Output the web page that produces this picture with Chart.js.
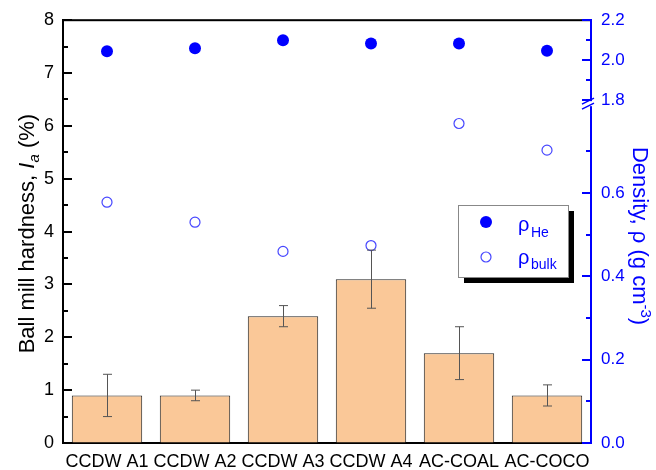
<!DOCTYPE html>
<html>
<head>
<meta charset="utf-8">
<script src="https://cdn.jsdelivr.net/npm/chart.js@4/dist/chart.umd.min.js"></script>
<style>
  body { margin: 0; background: #fff; }
</style>
</head>
<body>
<canvas id="c" width="656" height="470"></canvas>
<script>
// data
const labels = ['CCDW A1', 'CCDW A2', 'CCDW A3', 'CCDW A4', 'AC-COAL', 'AC-COCO'];
const hardness = [0.9, 0.9, 2.4, 3.1, 1.7, 0.9];
const hardnessErr = [0.4, 0.1, 0.2, 0.55, 0.5, 0.2];
const rhoHe = [2.045, 2.06, 2.10, 2.083, 2.083, 2.047];
const rhoBulk = [0.578, 0.53, 0.46, 0.474, 0.767, 0.703];

const leftTicks = [0, 1, 2, 3, 4, 5, 6, 7, 8];
const leftMinor = [0.5, 1.5, 2.5, 3.5, 4.5, 5.5, 6.5, 7.5];
const heTicks = [1.8, 2.0, 2.2];
const heMinor = [1.9, 2.1];
const bulkTicks = [0, 0.2, 0.4, 0.6];
const bulkMinor = [0.1, 0.3, 0.5, 0.7];

const FONT = "'Liberation Sans', Arial, sans-serif";
const BLUE = '#0000ff';

function fixTicks(list) {
  return function (scale) { scale.ticks = list.map(v => ({ value: v })); };
}

// short tick marks pointing into the plot
function drawTicks(ctx, scale, vals, x0, dir, len, color) {
  ctx.fillStyle = color;
  for (const v of vals) {
    const p = Math.round(scale.getPixelForValue(v));
    const xs = dir > 0 ? x0 : x0 - len;
    ctx.fillRect(xs, p - 1, len, 2);
  }
}

const extras = {
  id: 'extras',
  afterDatasetsDraw(chart) {
    const ctx = chart.ctx;
    const y = chart.scales.y;
    const meta = chart.getDatasetMeta(0);
    ctx.save();
    ctx.strokeStyle = '#555';
    ctx.lineWidth = 1;
    hardness.forEach((v, i) => {
      const x = Math.round(meta.data[i].x) + 0.5;
      const top = y.getPixelForValue(v + hardnessErr[i]);
      const bot = y.getPixelForValue(v - hardnessErr[i]);
      ctx.beginPath();
      ctx.moveTo(x, top); ctx.lineTo(x, bot);
      ctx.moveTo(x - 4.5, top); ctx.lineTo(x + 4.5, top);
      ctx.moveTo(x - 4.5, bot); ctx.lineTo(x + 4.5, bot);
      ctx.stroke();
    });
    ctx.restore();
  },
  afterDraw(chart) {
    const ctx = chart.ctx;
    const a = chart.chartArea;
    const sy = chart.scales.y, yHe = chart.scales.yHe, yBulk = chart.scales.yBulk;
    ctx.save();

    // top frame line
    ctx.fillStyle = '#000';
    ctx.fillRect(a.left - 1, a.top - 1, a.right - a.left, 2);

    const L = Math.round(a.left), R = Math.round(a.right);
    drawTicks(ctx, sy, leftTicks, L, 1, 9, '#000');
    drawTicks(ctx, sy, leftMinor, L, 1, 5, '#000');
    drawTicks(ctx, yHe, heTicks, R, -1, 9, BLUE);
    drawTicks(ctx, yHe, heMinor, R, -1, 5, BLUE);
    drawTicks(ctx, yBulk, bulkTicks, R, -1, 9, BLUE);
    drawTicks(ctx, yBulk, bulkMinor, R, -1, 5, BLUE);

    // axis break marks
    const yb = yHe.getPixelForValue(1.8);
    ctx.fillStyle = '#fff';
    ctx.fillRect(a.right - 2, yb + 1, 4, 5);
    ctx.strokeStyle = BLUE;
    ctx.lineWidth = 1.5;
    ctx.beginPath();
    ctx.moveTo(a.right - 9, yb + 4); ctx.lineTo(a.right + 3, yb - 2);
    ctx.moveTo(a.right - 9, yb + 9); ctx.lineTo(a.right + 3, yb + 3);
    ctx.stroke();

    // left title
    ctx.fillStyle = '#000';
    ctx.textBaseline = 'alphabetic';
    const parts = [
      { t: 'Ball mill hardness, ', f: '22px ' + FONT, dy: 0 },
      { t: 'I', f: 'italic 22px ' + FONT, dy: 0 },
      { t: 'a', f: 'italic 15px ' + FONT, dy: 5 },
      { t: ' (%)', f: '22px ' + FONT, dy: 0 }
    ];
    let total = 0;
    parts.forEach(p => { ctx.font = p.f; p.w = ctx.measureText(p.t).width; total += p.w; });
    ctx.save();
    ctx.translate(34, (a.top + a.bottom) / 2 + 2);
    ctx.rotate(-Math.PI / 2);
    let px = -total / 2;
    parts.forEach(p => { ctx.font = p.f; ctx.fillText(p.t, px, p.dy); px += p.w; });
    ctx.restore();

    // right title
    ctx.fillStyle = BLUE;
    const rparts = [
      { t: 'Density, \u03c1 (g cm', f: '22px ' + FONT, dy: 0 },
      { t: '-3', f: '15px ' + FONT, dy: -8 },
      { t: ')', f: '22px ' + FONT, dy: 0 }
    ];
    total = 0;
    rparts.forEach(p => { ctx.font = p.f; p.w = ctx.measureText(p.t).width; total += p.w; });
    ctx.save();
    ctx.translate(633, 236);
    ctx.rotate(Math.PI / 2);
    px = -total / 2;
    rparts.forEach(p => { ctx.font = p.f; ctx.fillText(p.t, px, p.dy); px += p.w; });
    ctx.restore();

    // legend box with shadow
    const lx = 458, ly = 205, lw = 110, lh = 72;
    ctx.fillStyle = '#000';
    ctx.fillRect(lx + 6, ly + 6, lw, lh);
    ctx.fillStyle = '#fff';
    ctx.fillRect(lx, ly, lw, lh);
    ctx.strokeStyle = '#888';
    ctx.lineWidth = 1;
    ctx.strokeRect(lx + 0.5, ly + 0.5, lw, lh);

    const ds = chart.data.datasets;
    ctx.beginPath();
    ctx.arc(lx + 28, ly + 17, ds[1].pointRadius, 0, Math.PI * 2);
    ctx.fillStyle = ds[1].pointBackgroundColor;
    ctx.fill();
    ctx.beginPath();
    ctx.arc(lx + 28, ly + 52, ds[2].pointRadius, 0, Math.PI * 2);
    ctx.fillStyle = '#fff';
    ctx.fill();
    ctx.strokeStyle = ds[2].pointBorderColor;
    ctx.lineWidth = ds[2].pointBorderWidth;
    ctx.stroke();

    ctx.fillStyle = BLUE;
    ctx.font = '20px ' + FONT;
    ctx.fillText('\u03c1', lx + 60, ly + 26);
    ctx.fillText('\u03c1', lx + 60, ly + 59);
    ctx.font = '14px ' + FONT;
    ctx.fillText('He', lx + 73, ly + 32);
    ctx.fillText('bulk', lx + 73, ly + 64);

    ctx.restore();
  }
};

new Chart(document.getElementById('c'), {
  data: {
    labels: labels,
    datasets: [
      {
        type: 'bar',
        label: 'Ball mill hardness',
        data: hardness,
        yAxisID: 'y',
        backgroundColor: '#fac898',
        borderColor: '#222',
        borderWidth: 1,
        barPercentage: 0.8,
        categoryPercentage: 1.0,
        order: 3
      },
      {
        type: 'line',
        label: '\u03c1He',
        data: rhoHe,
        yAxisID: 'yHe',
        showLine: false,
        pointRadius: 6,
        pointBackgroundColor: BLUE,
        pointBorderColor: BLUE,
        pointBorderWidth: 0,
        clip: false,
        order: 1
      },
      {
        type: 'line',
        label: '\u03c1bulk',
        data: rhoBulk,
        yAxisID: 'yBulk',
        showLine: false,
        pointRadius: 5,
        pointBackgroundColor: '#fff',
        pointBorderColor: '#4646ff',
        pointBorderWidth: 1.2,
        clip: false,
        order: 2
      }
    ]
  },
  options: {
    responsive: false,
    animation: false,
    layout: { padding: { top: 20, left: 0, right: 0, bottom: 0 } },
    plugins: { legend: { display: false }, tooltip: { enabled: false } },
    scales: {
      x: {
        grid: { drawOnChartArea: false, drawTicks: false },
        border: { color: '#000', width: 2 },
        ticks: { color: '#000', font: { family: FONT, size: 18 }, padding: 8, maxRotation: 0, autoSkip: false },
        afterFit: s => { s.height = 27; }
      },
      y: {
        position: 'left',
        min: 0, max: 8,
        afterBuildTicks: fixTicks(leftTicks),
        grid: { drawOnChartArea: false, drawTicks: false },
        border: { color: '#000', width: 2 },
        ticks: { color: '#000', font: { family: FONT, size: 18 }, padding: 9, autoSkip: false },
        afterFit: s => { s.width = 63; }
      },
      yHe: {
        position: 'right',
        stack: 'right',
        stackWeight: 80,
        min: 1.8, max: 2.2,
        afterBuildTicks: fixTicks(heTicks),
        grid: { drawOnChartArea: false, drawTicks: false },
        border: { color: BLUE, width: 2 },
        ticks: { color: BLUE, font: { family: FONT, size: 17 }, padding: 10, autoSkip: false, callback: v => v.toFixed(1) },
        afterFit: s => { s.width = 65; }
      },
      yBulk: {
        position: 'right',
        stack: 'right',
        stackWeight: 343,
        min: 0, max: 0.823,
        afterBuildTicks: fixTicks(bulkTicks),
        grid: { drawOnChartArea: false, drawTicks: false },
        border: { color: BLUE, width: 2 },
        ticks: { color: BLUE, font: { family: FONT, size: 17 }, padding: 10, autoSkip: false, callback: v => v.toFixed(1) },
        afterFit: s => { s.width = 65; }
      }
    }
  },
  plugins: [extras]
});
</script>
</body>
</html>
